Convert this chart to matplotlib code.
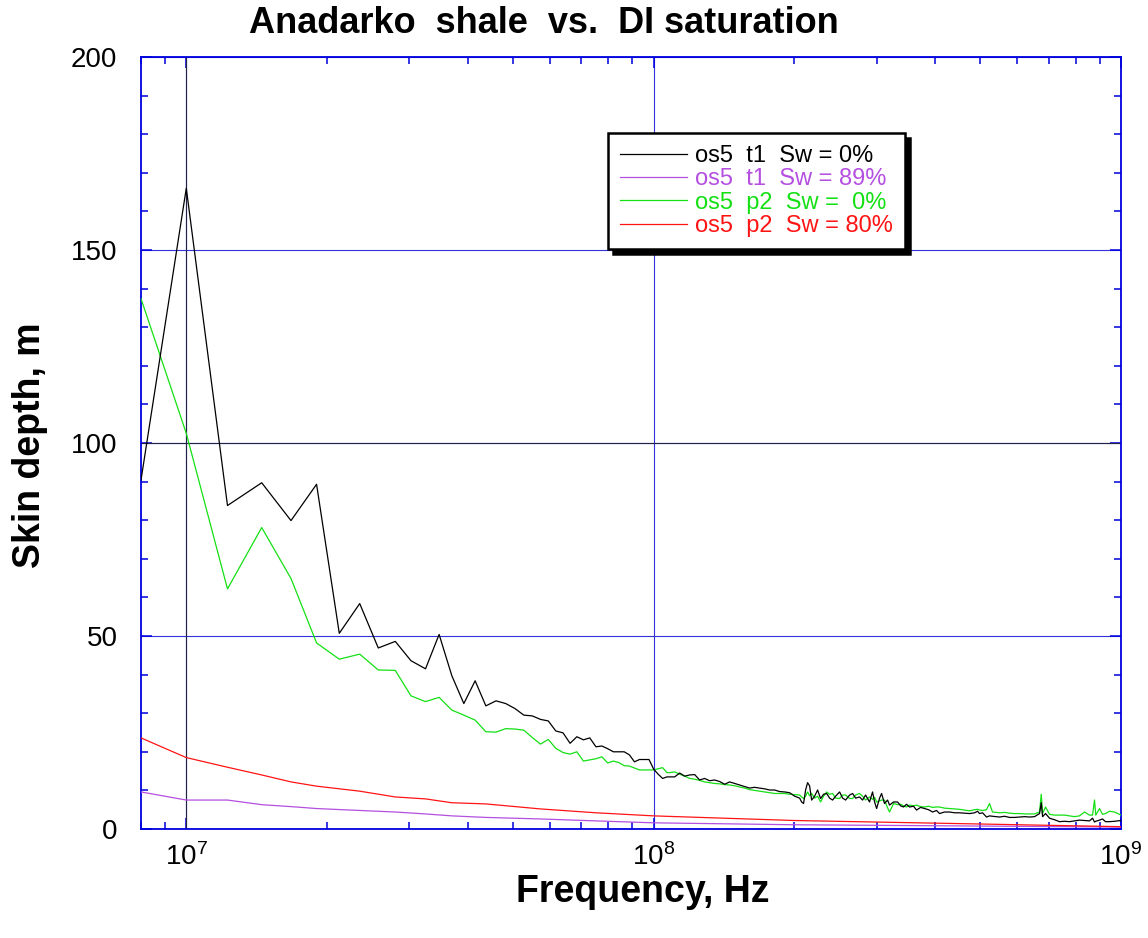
import numpy as np
import matplotlib
matplotlib.use('Agg')
import matplotlib.pyplot as plt
from matplotlib.ticker import MultipleLocator, LogLocator

plt.rcParams['font.family'] = ['Liberation Sans', 'DejaVu Sans']

# Low frequency part (MHz), one point per measured step
low_freq = [8.0, 10.0, 12.25, 14.5, 16.75, 19.0, 21.25, 23.5, 25.75, 28.0,
            30.25, 32.5, 34.75, 37.0, 39.25, 41.5, 43.75, 46.0, 48.25, 50.5,
            52.75, 55.0, 57.25, 59.5, 61.75, 64.0, 66.25, 68.5, 70.75, 73.0,
            75.25, 77.5, 79.75, 82.0, 84.25, 86.5, 88.75, 91.0, 93.25, 95.5,
            97.75, 100.0, 102.25]

t1_dry_low = [90.4, 166.0, 83.8, 89.7, 79.9, 89.3, 50.7, 58.4, 46.9, 48.6,
              43.6, 41.5, 50.4, 39.7, 32.5, 38.4, 31.9, 33.2, 32.5, 31.2,
              29.5, 29.3, 28.4, 28.0, 25.4, 24.9, 22.2, 23.9, 23.1, 23.6,
              21.3, 21.5, 20.8, 20.0, 20.0, 20.0, 19.2, 17.4, 18.0, 18.0,
              18.0, 15.5, 14.2]

p2_dry_low = [137.4, 102.5, 62.2, 78.1, 64.9, 48.2, 44.0, 45.3, 41.2, 41.1,
              34.5, 33.0, 34.1, 30.8, 29.5, 28.2, 25.2, 25.1, 26.0, 25.9,
              25.6, 23.7, 22.0, 23.2, 20.9, 19.8, 19.4, 20.0, 17.6, 17.9,
              18.2, 18.7, 17.1, 17.6, 17.2, 16.4, 16.3, 15.8, 15.3, 15.3,
              15.3, 15.3, 15.6]

# High frequency part (MHz), sampled coarser
high_freq = [104.5, 106.8, 108.2, 110.9, 113.7, 116.5, 119.4, 122.4, 125.4, 128.5,
             131.8, 135.0, 138.4, 141.9, 145.4, 149.0, 152.8, 156.6, 160.5, 164.4,
             168.6, 172.8, 177.1, 181.5, 186.0, 190.6, 195.4, 200.3, 205.3, 207.3,
             209.3, 211.4, 213.5, 215.6, 217.8, 221.0, 224.3, 227.6, 231.0, 234.6,
             237.9, 241.5, 245.1, 250.0, 253.7, 257.5, 262.6, 266.5, 270.5, 275.8,
             279.9, 284.1, 289.7, 294.0, 297.0, 300.0, 304.4, 307.4, 311.9, 316.6,
             319.7, 326.1, 332.6, 337.6, 342.5, 347.6, 352.8, 359.8, 365.2, 372.5,
             379.9, 387.5, 395.2, 403.1, 409.0, 419.2, 429.7, 440.4, 451.3, 462.6,
             474.1, 486.0, 493.2, 498.1, 505.5, 515.5, 523.2, 531.0, 549.7, 563.4,
             577.4, 591.8, 606.6, 621.7, 637.2, 653.1, 669.4, 675.1, 679.5, 689.5,
             703.2, 720.7, 738.7, 757.1, 776.0, 795.3, 815.2, 835.5, 856.3, 869.2,
             877.7, 883.0, 899.6, 912.9, 926.6, 945.0, 968.5, 1000.0]

t1_dry_high = [13.1, 13.5, 13.5, 13.5, 14.5, 13.7, 14.0, 14.1, 12.7, 13.1,
               12.5, 12.7, 12.3, 11.6, 12.2, 11.8, 11.4, 11.0, 10.6, 10.8,
               10.6, 10.4, 10.1, 10.1, 9.7, 9.6, 9.4, 8.5, 8.0, 7.0,
               6.6, 10.1, 12.0, 11.2, 7.5, 8.5, 10.1, 7.9, 9.0, 9.2,
               8.0, 7.5, 8.5, 9.6, 8.0, 7.5, 8.8, 9.2, 8.0, 8.3,
               7.5, 8.8, 7.0, 9.6, 7.0, 5.3, 8.0, 9.2, 6.6, 7.5,
               6.2, 7.0, 7.0, 6.0, 5.7, 6.4, 5.7, 5.9, 4.9, 5.6,
               5.3, 5.0, 4.4, 4.8, 4.0, 4.4, 4.4, 4.2, 4.2, 4.1,
               4.0, 4.2, 4.6, 4.0, 4.2, 3.1, 3.4, 3.3, 3.1, 3.3,
               3.0, 3.0, 3.1, 3.2, 3.1, 3.2, 4.0, 6.8, 3.2, 4.0,
               2.8, 2.4, 1.9, 2.0, 1.9, 2.1, 2.3, 2.2, 2.1, 2.8,
               1.8, 2.0, 2.3, 2.6, 1.9, 1.9, 2.0, 2.2]

p2_dry_high = [15.9, 14.6, 14.6, 14.8, 14.2, 13.7, 13.1, 12.9, 12.6, 12.2,
               12.0, 11.8, 11.7, 11.5, 11.4, 11.2, 10.9, 10.6, 10.2, 10.0,
               9.8, 9.6, 9.4, 9.2, 9.2, 9.2, 9.0, 8.9, 8.8, 8.3,
               7.9, 8.5, 9.6, 8.6, 9.2, 8.0, 8.5, 7.0, 8.5, 9.6,
               9.0, 9.2, 8.0, 7.9, 8.8, 8.8, 7.9, 7.9, 8.8, 9.2,
               8.5, 7.5, 8.3, 7.7, 8.2, 7.0, 7.3, 7.5, 7.5, 5.5,
               4.4, 6.6, 6.3, 6.4, 6.0, 5.7, 6.2, 6.0, 6.2, 5.8,
               5.7, 5.9, 5.6, 5.7, 5.7, 5.4, 5.3, 5.2, 5.1, 4.9,
               4.7, 5.0, 5.1, 4.9, 4.8, 5.0, 6.6, 4.4, 4.2, 4.3,
               4.1, 4.0, 4.0, 3.9, 3.9, 3.9, 4.4, 9.0, 4.0, 5.7,
               3.8, 3.6, 3.6, 3.6, 3.4, 3.2, 3.4, 4.4, 3.6, 3.6,
               7.5, 3.6, 5.3, 3.8, 4.0, 4.6, 4.4, 3.6]

# Wet samples are smooth, fewer points needed
wet_freq = [8.0, 10.0, 12.25, 14.5, 16.75, 19.0, 23.5, 28.0, 32.5, 37.0,
            43.75, 57.25, 75.25, 100.0, 200.0, 450.0, 1000.0]
t1_wet = [9.6, 7.5, 7.5, 6.3, 5.8, 5.3, 4.8, 4.4, 3.9, 3.4,
          3.0, 2.6, 2.1, 1.6, 1.1, 0.8, 0.5]
p2_wet = [23.6, 18.5, 16.0, 14.0, 12.2, 11.1, 9.8, 8.3, 7.8, 6.8,
          6.5, 5.2, 4.2, 3.4, 2.2, 1.4, 0.6]

labels = ['os5  t1  Sw = 0%', 'os5  t1  Sw = 89%',
          'os5  p2  Sw =  0%', 'os5  p2  Sw = 80%']
colors = ['black', '#b44fe0', '#14e014', '#ff1414']

axis_blue = '#0000dd'

fig = plt.figure(figsize=(11.48, 9.38), dpi=100)
ax = fig.add_axes([141 / 1148, 1 - 829 / 938, 980 / 1148, 772 / 938])

# join the two frequency ranges for the dry curves
dry_freq = np.array(low_freq + high_freq) * 1e6
t1_dry = t1_dry_low + t1_dry_high
p2_dry = p2_dry_low + p2_dry_high
wet_hz = np.array(wet_freq) * 1e6

ax.plot(dry_freq, t1_dry, color=colors[0], lw=0.9, label=labels[0], zorder=4)
ax.plot(wet_hz, t1_wet, color=colors[1], lw=0.9, label=labels[1], zorder=3)
ax.plot(dry_freq, p2_dry, color=colors[2], lw=0.9, label=labels[2], zorder=3)
ax.plot(wet_hz, p2_wet, color=colors[3], lw=0.9, label=labels[3], zorder=3)

ax.set_xscale('log')
ax.set_xlim(8e6, 1e9)
ax.set_ylim(0, 200)

ax.yaxis.set_major_locator(MultipleLocator(50))
ax.yaxis.set_minor_locator(MultipleLocator(10))
ax.xaxis.set_major_locator(LogLocator(base=10))
ax.xaxis.set_minor_locator(LogLocator(base=10, subs=np.arange(2, 10)))

# blue frame and ticks on every side, pointing in
for side in ax.spines.values():
    side.set_color(axis_blue)
    side.set_linewidth(1.3)
ax.tick_params(which='both', direction='in', top=True, right=True,
               color=axis_blue, width=1.1)
ax.tick_params(which='major', length=8)
ax.tick_params(which='minor', length=5)
ax.tick_params(axis='y', which='major', labelsize=20, pad=17)
ax.tick_params(axis='x', which='major', labelsize=20, pad=10)

# grid lines at major ticks, the 100 and 1e7 lines are darker
ax.grid(True, which='major', color='#3333dd', lw=0.8)
ax.axhline(100, color='#222244', lw=0.8, zorder=1.6)
ax.axvline(1e7, color='#222244', lw=0.8, zorder=1.6)

leg = ax.legend(loc='upper left', bbox_to_anchor=(0.4765, 0.9016),
                borderaxespad=0, fontsize=17, frameon=True, fancybox=False,
                edgecolor='black', framealpha=1,
                shadow={'ox': 3.6, 'oy': -3.6, 'color': 'black', 'alpha': 1},
                handlelength=2.85, handletextpad=0.35, labelspacing=0.06,
                borderpad=0.5, labelcolor='linecolor')
leg.get_frame().set_linewidth(1.8)

fig.text(0.474, 1 - 33 / 938, 'Anadarko  shale  vs.  DI saturation',
         fontsize=26, fontweight='bold', ha='center', va='baseline')
fig.text(643 / 1148, 1 - 902 / 938, 'Frequency, Hz',
         fontsize=27, fontweight='bold', ha='center', va='baseline')
fig.text(30 / 1148, 1 - 445 / 938, 'Skin depth, m', rotation=90,
         fontsize=27, fontweight='bold', ha='center', va='center')

fig.savefig('out.png', dpi=100)
